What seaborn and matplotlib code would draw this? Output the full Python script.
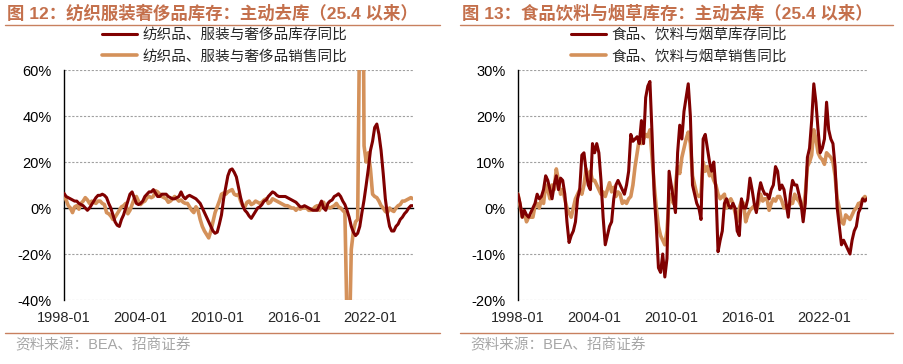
import matplotlib
matplotlib.use('Agg')  # Use non-interactive backend
import matplotlib.pyplot as plt
from matplotlib.lines import Line2D
import pandas as pd
import numpy as np
import seaborn as sns

# Bi-monthly readings (Jan, Mar, May, Jul, Sep, Nov) from 1998-01 to 2025-05, YoY %
tex_inv = [
    6.4, 5, 4.5, 4, 3.5, 3,   3, 2, 1.5, 1, 0, -1,   0, 1.5, 3, 4.5, 5.5, 5.5,
    6, 5.5, 4.5, 2, 0, -3,   -6, -7.5, -8, -5, -3, 0,   3, 6, 7, 4.5, 2, 1.5,
    2, 3, 5, 6, 7, 7,   8, 6.5, 5, 5, 6, 6,   6, 5, 4.5, 4, 4, 4.5,
    5, 7, 5, 4, 5, 5.5,   5, 4.5, 4, 3, 2, 0,   -2, -4, -6, -8, -10, -11,
    -10.5, -7, -3, 4, 9, 14,   16.5, 17, 15.5, 13.5, 9, 4.5,   1, -1, -2, -3.5, -4.5, -3,
    -1.5, 0, 0.5, 1.5, 3, 3.5,   5, 6, 7, 6.5, 5.5, 5,   5, 5, 5, 4.5, 4, 3.5,
    3, 2.5, 1.5, 0.5, 0.5, 1,   0.5, 0, -0.5, -1, -1, -1,   1, 3, 0, -1, 2, 3,
    3.5, 5, 5.5, 6.2, 5, 3,   1.5, -1, -4, -8, -10.5, -12,   -11, -8, -2, 3.5, 10, 17,
    25, 29, 35, 36.5, 32, 25,   15, 4, -3, -8, -10, -10,   -8, -7, -5, -4, -2.5, -1.5,
    0, 1, 1,
]
tex_sal = [
    5, 3.5, 1, 0, -2, 0.5,   1, -0.5, 2, 3, 4.5, 3.5,   2, 3, 2.5, 2, 3, 3,
    2, 1.5, -2, -2.5, -3.5, -5,   -4, -2.5, -1, 0.5, 1, 2,   -2.5, -1, 1.5, 4, 5, 3,
    1.5, 2.5, 3, 4.5, 5, 4.5,   5, 7.5, 7, 6, 5, 4.5,   4, 2.5, 3, 4, 5, 4,
    3, 3.5, 2.5, 2, 2, 0.5,   -1, -2, 0.5, -1, -5, -8,   -10, -11.5, -13, -10, -6, -2,
    0.5, 3, 6, 6.5, 6, 7,   7.5, 8, 6, 5.5, 6, 3,   1, 0.5, 2.5, 3, 1.5, 2,
    3, 2.5, 2, 2.5, 3.5, 4,   2, 2.5, 4, 3.5, 3, 2.5,   2, 1.5, 1, 1, 0.5, 0,
    0, -1, 0, -0.5, 0, 0,   0, -1, -1, -0.5, 0.5, 1,   -1, 1, 2.5, 0, 0.5, 0,
    0.5, 1, 2, 0.5, 0, -1,   -2, -50, -63, -18, -10, -6,   -5, 90, 200, 27, 20, 24,
    17, 6, 5, 4.5, 3, 1,   0, -1.5, -2, 0, -1, -1.5,   0, 1, 1.5, 3, 3, 3.5,
    4, 4.5, 4,
]
food_inv = [
    3, 1, -2, -0.5, -1.5, -2,   -1, 0, 1, 3, 2, 2.5,   4, 7, 6, 4, 2, 5,
    7, 4, 6.5, 6, 3, -3,   -7.5, -6, -5, -3, 2, 4,   11.5, 12, 8, 5, 4, 14,
    12, 14, 12, 6, -2, -8,   -6, -4, -3, 2, 5, 6,   5, 4, 3, 5, 8, 16,
    14.5, 15, 15.5, 14, 19, 14,   24, 26.5, 27.5, 16, 3, -4,   -13, -14, -10, -15, -11, 8,
    5, 2, -1, 12, 18, 15,   21, 24, 27, 20, 5, 3,   1, 0, -2.5, 15, 16, 13,
    10, 8, 10, 4, -9.5, -7,   -5, 1, 2, 0.5, 0, 1,   0, -5, -6, 2, 0, 0,
    2, 6.5, 4, 1, -1, 3,   5.5, 4, 3, 3, 2, 4,   5, 9, 8, 4, 5, 4,
    1, -2, 3, 6, 5, 5,   3, 1, -3, 1, 11, 13,   19, 27, 23, 17, 12, 13,
    15, 23, 17, 15, 14, 9,   0, -4, -8, -7, -8, -9,   -10, -7, -5, -4, -1, 0,
    2, 1.5, 2,
]
food_sal = [
    3, 0.5, -2, -1, -3, -2,   -2, -2, 0.5, 1, 0, 2,   1, 5, 4, 2, 5, 4,
    8.5, 6, 3, 4, 2, 0,   -1, -2, 0, 2, 3, 4,   3, 5, 8.5, 6, 8, 6,
    6, 5, 4, 3, 3.5, 2.5,   4, 5.5, 3.5, 4.5, 2.5, 3.5,   3, 1, 1.5, 1, 2, 2.5,
    5, 9, 12, 15, 14, 15,   16, 15.5, 17, 11, 5, 0,   -4, -6, -7, -8, -5, 2,
    3, 1, 5, 9, 7.5, 11,   13, 15, 16.5, 14, 7, 5,   3, 2.5, 3, 10, 8, 9,
    7, 7.5, 6, 5, 3, 2,   2.5, 3, 0, 1.5, 2, 1,   -1, -3, 0, 1.5, 1, -3,
    -1.5, -0.5, 0, 0.5, -0.5, 1,   3, 1.5, 2, 2, -0.5, 1,   2, 1.5, 2.5, 2.5, 1.5, 0,
    0.5, 0, 1, 1, 3, 2,   1.5, 0.5, 0, 3, 9, 10,   11.5, 17, 15, 12, 11, 10.5,
    9.5, 12, 11.5, 11, 10, 7,   2, 0, -3, -3.5, -1.5, -2,   -2.5, -1.5, -0.5, 0, 1, 1,
    2, 2.5, 2,
]

dates = pd.date_range('1998-01-01', periods=len(tex_inv), freq='2MS')
xpos = dates.year + (dates.month - 1) / 12

xtick_years = [1998, 2004, 2010, 2016, 2022]
xtick_labels = ['1998-01', '2004-01', '2010-01', '2016-01', '2022-01']
left_yticks = [-40, -20, 0, 20, 40, 60]
right_yticks = [-20, -10, 0, 10, 20, 30]

titles = ['图 12：纺织服装奢侈品库存：主动去库（25.4 以来）',
          '图 13：食品饮料与烟草库存：主动去库（25.4 以来）']
legend_left = ['纺织品、服装与奢侈品库存同比', '纺织品、服装与奢侈品销售同比']
legend_right = ['食品、饮料与烟草库存同比', '食品、饮料与烟草销售同比']
source = '资料来源：BEA、招商证券'

RED = '#800000'
TAN = '#D4915A'
TITLE_C = '#C4704C'

sns.set_style('white')
plt.rcParams['font.family'] = ['Liberation Sans', 'Noto Sans CJK SC']
plt.rcParams['axes.unicode_minus'] = False

fig = plt.figure(figsize=(9.04, 3.64), dpi=100)
W, H = 904, 364
ax1 = fig.add_axes([64 / W, 1 - 300 / H, 349 / W, 230 / H])
ax2 = fig.add_axes([518 / W, 1 - 300 / H, 349 / W, 230 / H])


def draw(ax, inv, sal, labels, yticks, leg_x):
    df = pd.DataFrame({'x': xpos, 'inv': inv, 'sal': sal})
    sns.lineplot(data=df, x='x', y='sal', ax=ax, color=TAN, linewidth=2.6,
                 label=labels[1], zorder=3)
    sns.lineplot(data=df, x='x', y='inv', ax=ax, color=RED, linewidth=2.2,
                 label=labels[0], zorder=4)
    ax.set_xlim(1998, 2025 + 4 / 12)
    ax.set_ylim(yticks[0], yticks[-1])
    ax.set_yticks(yticks)
    ax.set_yticklabels([f'{v}%' for v in yticks], fontsize=10.5)
    for v in yticks:
        if v != 0:
            ax.axhline(v, color='#a0a0a0', linestyle=(0, (2, 1.5)), linewidth=0.8, zorder=0)
    for s in ['top', 'right']:
        ax.spines[s].set_visible(False)
    ax.spines['left'].set_color('black')
    ax.spines['left'].set_linewidth(1)
    ax.spines['bottom'].set_position(('data', 0))
    ax.spines['bottom'].set_color('black')
    ax.spines['bottom'].set_linewidth(1)
    ax.spines['bottom'].set_zorder(2)
    ax.set_xticks(xtick_years)
    ax.tick_params(axis='x', length=3, width=0.8, labelbottom=False)
    ax.tick_params(axis='y', length=4, width=1, pad=5, colors='black')
    sec = ax.secondary_xaxis(0)
    sec.set_xticks(xtick_years, labels=xtick_labels, fontsize=10.5)
    sec.spines['bottom'].set_visible(False)
    sec.tick_params(length=0, pad=8)
    ax.set_xlabel('')
    ax.set_ylabel('')
    handles, labs = ax.get_legend_handles_labels()
    ax.legend(handles[::-1], labs[::-1], loc='upper left',
              bbox_to_anchor=(leg_x / W, 1 - 28 / H), bbox_transform=fig.transFigure,
              frameon=False, handlelength=2.4, handletextpad=0.35,
              labelspacing=0.5, borderpad=0, borderaxespad=0,
              prop={'family': ['Noto Sans CJK SC'], 'size': 10.5})


draw(ax1, tex_inv, tex_sal, legend_left, left_yticks, 102)
draw(ax2, food_inv, food_sal, legend_right, right_yticks, 571)

for x0, x1, t in [(7, 440, titles[0]), (462, 893, titles[1])]:
    fig.text(x0 / W, 1 - 13 / H, t, fontsize=12.5, fontweight='bold', color=TITLE_C,
             va='center', ha='left')
    fig.add_artist(Line2D([(x0 - 2) / W, x1 / W], [1 - 25 / H] * 2,
                          transform=fig.transFigure, color='#C8805F', linewidth=1))
    fig.add_artist(Line2D([(x0 - 2) / W, x1 / W], [1 - 333 / H] * 2,
                          transform=fig.transFigure, color='#C8805F', linewidth=1))
    fig.text((x0 + 8) / W, 1 - 345 / H, source, fontsize=10.5, color='#A6A6A6',
             va='center', ha='left')

fig.savefig('out.png', dpi=100)
